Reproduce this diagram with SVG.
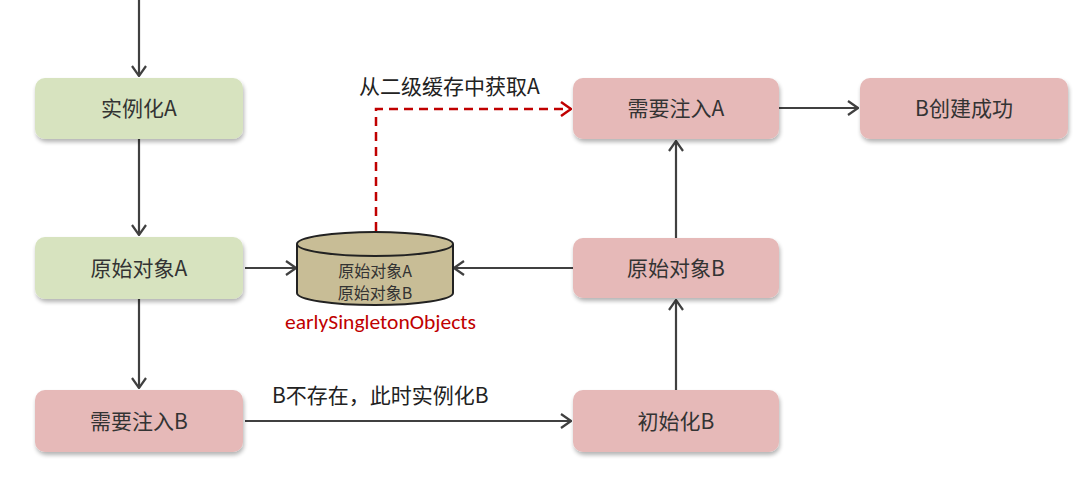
<svg xmlns="http://www.w3.org/2000/svg" width="1090" height="478" viewBox="0 0 1090 478">
<style>
.g{fill:#d7e3bf}
.p{fill:#e6b9b8}
.box{filter:url(#sh)}
.t{font-family:"Microsoft YaHei","Noto Sans CJK SC",sans-serif;font-size:21px;fill:#333;text-anchor:middle}
.ct{font-family:"Microsoft YaHei","Noto Sans CJK SC",sans-serif;font-size:16px;fill:#333;text-anchor:middle}
.lbl{font-family:"Microsoft YaHei","Noto Sans CJK SC",sans-serif;font-size:21px;fill:#222}
.ln{fill:none;stroke:#404040;stroke-width:2.2}
.dash{fill:none;stroke:#c00000;stroke-width:2.5;stroke-dasharray:9 6}
</style>
<defs>
<marker id="ah" viewBox="0 0 12 16" refX="11" refY="8" markerWidth="12" markerHeight="16" markerUnits="userSpaceOnUse" orient="auto">
<path d="M1,1 L11,8 L1,15" fill="none" stroke="#404040" stroke-width="2.2"/>
</marker>
<marker id="ahr" viewBox="0 0 12 16" refX="11" refY="8" markerWidth="12" markerHeight="16" markerUnits="userSpaceOnUse" orient="auto">
<path d="M1,1 L11,8 L1,15" fill="none" stroke="#c00000" stroke-width="2.5"/>
</marker>
<filter id="sh" x="-10%" y="-10%" width="125%" height="135%">
<feGaussianBlur in="SourceAlpha" stdDeviation="2"/>
<feOffset dx="1" dy="3" result="b"/>
<feComponentTransfer><feFuncA type="linear" slope="0.3"/></feComponentTransfer>
<feMerge><feMergeNode/><feMergeNode in="SourceGraphic"/></feMerge>
</filter>
</defs>
<rect width="1090" height="478" fill="#fff"/>

<g id="connectors">
<path class="ln" d="M139,0 V76" marker-end="url(#ah)"/>
<path class="ln" d="M139,139 V235" marker-end="url(#ah)"/>
<path class="ln" d="M139,299 V388" marker-end="url(#ah)"/>
<path class="ln" d="M245,268 H296" marker-end="url(#ah)"/>
<path class="ln" d="M573,268 H454" marker-end="url(#ah)"/>
<path class="ln" d="M245,421 H571" marker-end="url(#ah)"/>
<path class="ln" d="M676,390 V300" marker-end="url(#ah)"/>
<path class="ln" d="M676,238 V141" marker-end="url(#ah)"/>
<path class="ln" d="M779,108 H858" marker-end="url(#ah)"/>
<path class="dash" d="M376,231 V109 H571" marker-end="url(#ahr)"/>
<text class="lbl" x="359" y="94">从二级缓存中获取A</text>
<text class="lbl" x="272" y="403">B不存在，此时实例化B</text>
</g>

<g id="n-instA"><rect class="g box" x="35" y="78" width="208" height="61" rx="10"/><text class="t" x="139" y="116">实例化A</text></g>
<g id="n-rawA"><rect class="g box" x="35" y="237" width="208" height="62" rx="10"/><text class="t" x="139" y="276">原始对象A</text></g>
<g id="n-needB"><rect class="p box" x="35" y="390" width="208" height="62" rx="10"/><text class="t" x="139" y="429">需要注入B</text></g>
<g id="n-initB"><rect class="p box" x="573" y="390" width="206" height="62" rx="10"/><text class="t" x="676" y="429">初始化B</text></g>
<g id="n-rawB"><rect class="p box" x="573" y="238" width="206" height="60" rx="10"/><text class="t" x="676" y="276">原始对象B</text></g>
<g id="n-needA"><rect class="p box" x="573" y="78" width="206" height="61" rx="10"/><text class="t" x="676" y="116">需要注入A</text></g>
<g id="n-doneB"><rect class="p box" x="860" y="78" width="208" height="61" rx="10"/><text class="t" x="964" y="116">B创建成功</text></g>

<g id="n-cache">
<path d="M297,244 V293 A78,12 0 0 0 453,293 V244" fill="#c8bd96" stroke="#222" stroke-width="2"/>
<ellipse cx="375" cy="244" rx="78" ry="12" fill="#c8bd96" stroke="#222" stroke-width="2"/>
<text class="ct" x="375" y="277">原始对象A</text>
<text class="ct" x="375" y="299">原始对象B</text>
<text x="285" y="329" font-family="Carlito,'Liberation Sans',sans-serif" font-size="20" fill="#c00000" textLength="191" lengthAdjust="spacingAndGlyphs">earlySingletonObjects</text>
</g>
</svg>
